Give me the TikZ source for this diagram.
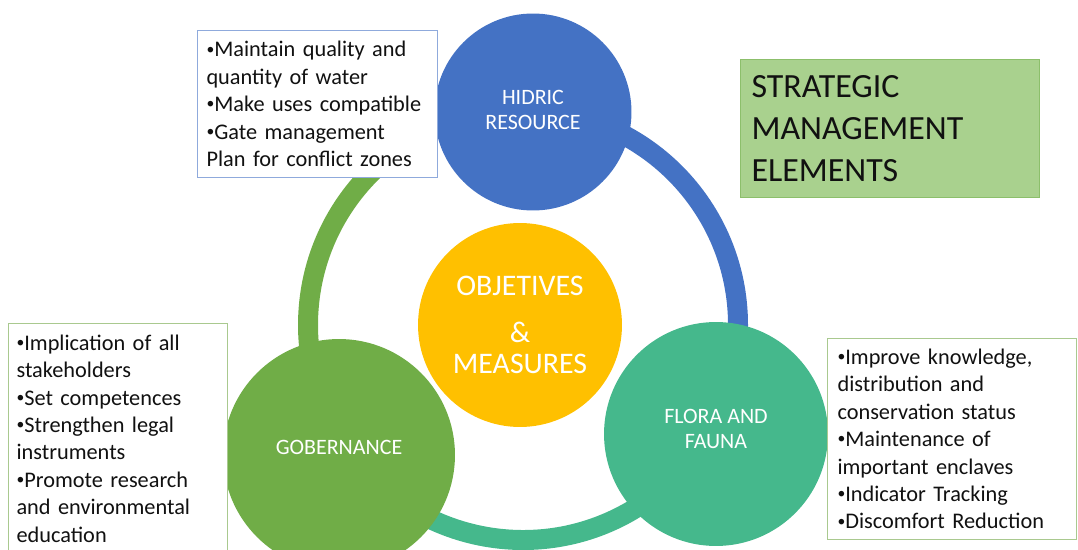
\documentclass[tikz,border=0pt]{standalone}
\usepackage{fontspec}
\setmainfont{Carlito}
\usepackage{xcolor}
\usepackage{tikz}
\usetikzlibrary{positioning}
\definecolor{hidblue}{HTML}{4472C4}
\definecolor{govgreen}{HTML}{70AD47}
\definecolor{faunateal}{HTML}{45B88C}
\definecolor{amber}{HTML}{FFC000}
\definecolor{sage}{HTML}{A9D18E}
\definecolor{sageline}{HTML}{8CBF6B}
\definecolor{blueline}{HTML}{8FAADC}
\definecolor{greenline}{HTML}{A9C98F}
\definecolor{ink}{HTML}{111111}
\newcommand{\dotmark}{\raisebox{0.12em}{\scalebox{0.7}{•}}}
\tikzset{
  ring/.style    = {draw=#1, line width=0.4cm},
  orb/.style     = {circle, fill=#1, draw=none, inner sep=0pt},
  orbtext/.style = {text=white, align=center, inner sep=0pt,
                    font=\fontsize{12.5}{14.2}\selectfont},
  note/.style    = {draw=#1, fill=white, anchor=north west, align=left,
                    text=ink, line width=0.6pt,
                    font=\fontsize{12.7}{15.6}\selectfont},
  banner/.style  = {draw=sageline, fill=sage, anchor=north west, align=left,
                    text=ink, line width=0.6pt,
                    font=\fontsize{19.3}{24.1}\selectfont},
}

\begin{document}
\begin{tikzpicture}[x=0.02cm, y=0.02cm]
\useasboundingbox (0,0) rectangle (1078,-550);
\clip (0,0) rectangle (1078,-550);

% ---------------- the ring -----------------------------------------
\coordinate (mid) at (523,-325);
\draw[ring=govgreen]  ([shift={(mid)}]87:215) arc[start angle=87, end angle=215, radius=215];
\draw[ring=hidblue]   ([shift={(mid)}]87:215) arc[start angle=87, end angle=-29.5, radius=215];
\draw[ring=faunateal] ([shift={(mid)}]215:215) arc[start angle=215, end angle=330.5, radius=215];

% ---------------- circles ------------------------------------------
\node[orb=hidblue, minimum size=3.94cm,
  label={[orbtext, yshift=0.05cm]center:HIDRIC\\RESOURCE}] at (533,-112) (hid) {};
\node[orb=amber, minimum size=4.08cm, align=center, text=white,
  font=\fontsize{17}{18}\selectfont] at (520,-325) (obj)
  {OBJETIVES\\[8.6pt]\&\\[0pt]MEASURES};
\node[orb=govgreen, minimum size=4.64cm,
  label={[orbtext, yshift=0.16cm]center:GOBERNANCE}] at (339,-455) (gov) {};
\node[orb=faunateal, minimum size=4.48cm,
  label={[orbtext, yshift=0.1cm]center:FLORA AND\\FAUNA}] at (716,-434) (fau) {};

% ---------------- notes --------------------------------------------
\node[note=blueline, text width=4.44cm, inner xsep=0.18cm,
  minimum height=2.94cm] at (197,-30) (hidnote)
  {\dotmark Maintain quality and\\quantity of water\\\dotmark Make uses compatible\\\dotmark Gate management\\Plan for conflict zones};
\node[note=greenline, text width=4.06cm, inner xsep=0.16cm,
  minimum height=4.6cm] at (8,-323) (govnote)
  {\dotmark Implication of all\\stakeholders\\\dotmark Set competences\\\dotmark Strengthen legal\\instruments\\\dotmark Promote research\\and environmental\\education};
\node[note=greenline, text width=4.58cm, inner xsep=0.2cm,
  minimum height=4.02cm] at (827,-338) (faunote)
  {\dotmark Improve knowledge,\\distribution and\\conservation status\\\dotmark Maintenance of\\important enclaves\\\dotmark Indicator Tracking\\\dotmark Discomfort Reduction};

% ---------------- title --------------------------------------------
\node[banner, text width=5.54cm, inner xsep=0.22cm,
  minimum height=2.76cm] at (740,-59) (title)
  {STRATEGIC\\MANAGEMENT\\ELEMENTS};

\end{tikzpicture}
\end{document}
